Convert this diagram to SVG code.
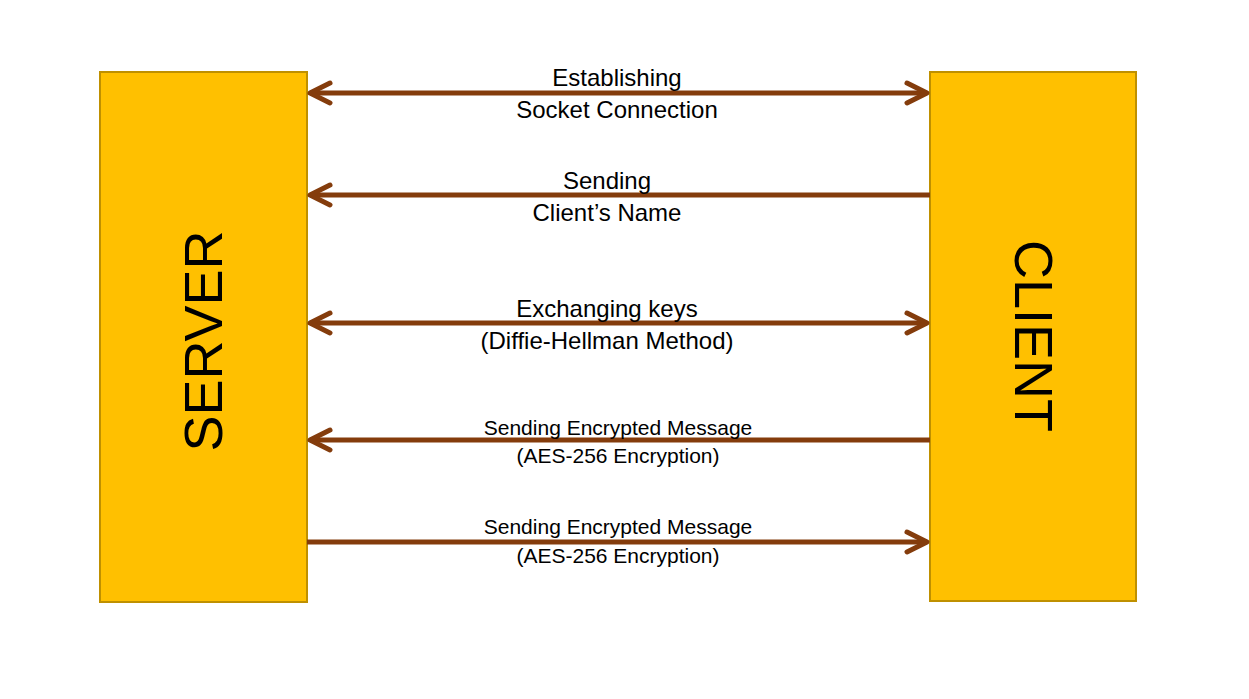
<svg xmlns="http://www.w3.org/2000/svg" width="1249" height="699" viewBox="0 0 1249 699">
<style>
.box{fill:#FFC000;stroke:#BF9000;stroke-width:2}
.big{font-family:"Liberation Sans",Arial,sans-serif;font-size:54px;fill:#000}
.lbl{font-family:"Liberation Sans",Arial,sans-serif;font-size:24px;fill:#000;text-anchor:middle}
.sm{font-family:"Liberation Sans",Arial,sans-serif;font-size:21px;fill:#000;text-anchor:middle}
.ln{stroke:#843C0C;stroke-width:5;fill:none}
.hd{stroke:#843C0C;stroke-width:5;fill:none;stroke-linecap:round;stroke-linejoin:round}
</style>
<defs>
<marker id="ah" markerUnits="userSpaceOnUse" viewBox="-24 -14 28 28" refX="0" refY="0" markerWidth="28" markerHeight="28" orient="auto-start-reverse">
<path d="M-20,-10 L0,0 L-20,10" class="hd"/>
</marker>
</defs>
<rect width="1249" height="699" fill="#fff"/>
<g id="server">
<rect class="box" x="100" y="72" width="207" height="530"/>
<text class="big" text-anchor="middle" transform="translate(222,341) rotate(-90)">SERVER</text>
</g>
<g id="client">
<rect class="box" x="930" y="72" width="206" height="529"/>
<text class="big" text-anchor="middle" transform="translate(1015,336) rotate(90)">CLIENT</text>
</g>
<g id="connectors">
<line class="ln" x1="310" y1="93" x2="927" y2="93" marker-start="url(#ah)" marker-end="url(#ah)"/>
<line class="ln" x1="310" y1="195" x2="930" y2="195" marker-start="url(#ah)"/>
<line class="ln" x1="310" y1="323" x2="927" y2="323" marker-start="url(#ah)" marker-end="url(#ah)"/>
<line class="ln" x1="310" y1="440" x2="930" y2="440" marker-start="url(#ah)"/>
<line class="ln" x1="307" y1="542" x2="927" y2="542" marker-end="url(#ah)"/>
</g>
<g id="labels">
<text class="lbl" x="617" y="86">Establishing</text>
<text class="lbl" x="617" y="118">Socket Connection</text>
<text class="lbl" x="607" y="189">Sending</text>
<text class="lbl" x="607" y="221">Client’s Name</text>
<text class="lbl" x="607" y="317">Exchanging keys</text>
<text class="lbl" x="607" y="349">(Diffie-Hellman Method)</text>
<text class="sm" x="618" y="435">Sending Encrypted Message</text>
<text class="sm" x="618" y="463">(AES-256 Encryption)</text>
<text class="sm" x="618" y="534">Sending Encrypted Message</text>
<text class="sm" x="618" y="563">(AES-256 Encryption)</text>
</g>
</svg>
